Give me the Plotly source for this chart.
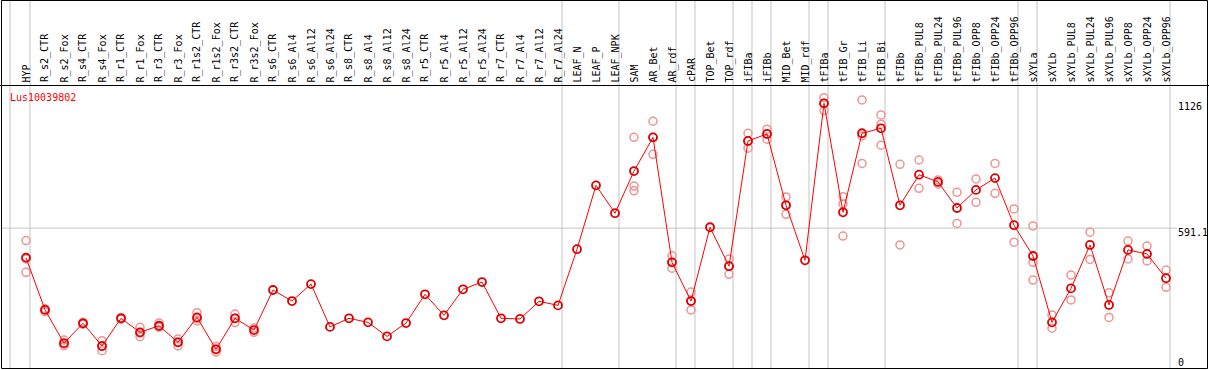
import plotly.graph_objects as go

categories = ["HYP", "R_s2_CTR", "R_s2_Fox", "R_s4_CTR", "R_s4_Fox", "R_r1_CTR", "R_r1_Fox",
              "R_r3_CTR", "R_r3_Fox", "R_r1s2_CTR", "R_r1s2_Fox", "R_r3s2_CTR", "R_r3s2_Fox",
              "R_s6_CTR", "R_s6_Al4", "R_s6_Al12", "R_s6_Al24", "R_s8_CTR", "R_s8_Al4", "R_s8_Al12",
              "R_s8_Al24", "R_r5_CTR", "R_r5_Al4", "R_r5_Al12", "R_r5_Al24", "R_r7_CTR", "R_r7_Al4",
              "R_r7_Al12", "R_r7_Al24", "LEAF_N", "LEAF_P", "LEAF_NPK", "SAM", "AR_Bet", "AR_rdf",
              "cPAR", "TOP_Bet", "TOP_rdf", "iFIBa", "iFIBb", "MID_Bet", "MID_rdf", "tFIBa",
              "tFIB_Gr", "tFIB_Li", "tFIB_Bi", "tFIBb", "tFIBb_PUL8", "tFIBb_PUL24", "tFIBb_PUL96",
              "tFIBb_OPP8", "tFIBb_OPP24", "tFIBb_OPP96", "sXYLa", "sXYLb", "sXYLb_PUL8",
              "sXYLb_PUL24", "sXYLb_PUL96", "sXYLb_OPP8", "sXYLb_OPP24", "sXYLb_OPP96"]

mean_values = [461, 230, 83, 171, 71, 193, 131, 160, 87, 197, 56, 193, 141,
               318, 269, 344, 155, 193, 175, 113, 172, 299, 206, 321, 353, 193, 190, 268, 250,
               498, 780, 657, 843, 992, 440, 269, 595, 423, 976, 1007, 692, 449, 1142,
               661, 1010, 1032, 692, 827, 795, 680, 760, 812, 604, 468, 175, 325,
               517, 252, 495, 477, 370]

replicates = [[536, 455, 396], [235, 222], [97, 80, 72], [175, 167], [94, 69, 50], [197, 189],
              [153, 128, 112], [172, 155, 153], [102, 88, 71], [218, 192, 181], [68, 56, 44],
              [212, 193, 174], [150, 131],
              [], [], [], [], [], [], [], [], [], [], [], [], [], [], [], [],
              [], [], [], [992, 777, 756], [1063, 992, 917], [469, 440, 414], [309, 269, 230],
              [], [455, 425, 387], [1010, 975, 944], [1028, 1007, 984], [729, 692, 652], [],
              [1167, 1142, 1110], [730, 698, 556], [1157, 998, 877], [1091, 1050, 957],
              [873, 517], [892, 767], [804, 786], [749, 612], [808, 705], [877, 745], [676, 529],
              [601, 440, 362], [208, 149], [384, 274], [573, 453], [306, 197], [534, 455],
              [512, 446], [406, 330]]

# separators drawn after these categories (-1 = before the first)
group_breaks = [-1, 0, 28, 31, 34, 35, 37, 38, 39, 41, 42, 45, 52, 53, 60]

gene = "Lus10039802"
axis_labels = [1126, 591.1, 0]
axis_texts = ["1126", "591.1", "0"]

W, H = 1209, 370
FONT = "DejaVu Sans Mono"

rep_x, rep_y = [], []
for c, reps in zip(categories, replicates):
    for r in reps:
        rep_x.append(c)
        rep_y.append(r)

fig = go.Figure()
fig.add_trace(go.Scatter(x=rep_x, y=rep_y, mode="markers", hoverinfo="skip",
                         marker=dict(symbol="circle-open", size=8, color="#ee9494",
                                     line=dict(width=1.5, color="#ee9494"))))
fig.add_trace(go.Scatter(x=categories, y=mean_values, mode="lines+markers",
                         line=dict(color="#ff0000", width=1),
                         marker=dict(symbol="circle-open", size=8, color="#e00000",
                                     line=dict(width=1.8, color="#e00000"))))

shapes = []
for b in group_breaks:
    xb = b + 0.21 if b >= 0 else -0.84
    shapes.append(dict(type="line", xref="x", yref="paper", x0=xb, x1=xb,
                       y0=1 - 368.5 / H, y1=1, line=dict(color="#c4c4c4", width=1), layer="below"))
shapes.append(dict(type="line", xref="paper", yref="y", x0=1.5 / W, x1=1177 / W,
                   y0=591.1, y1=591.1, line=dict(color="#c4c4c4", width=1), layer="below"))
# header separator and frame
shapes.append(dict(type="line", xref="paper", yref="paper", x0=0, x1=1,
                   y0=1 - 85.5 / H, y1=1 - 85.5 / H, line=dict(color="black", width=1)))
shapes.append(dict(type="rect", xref="paper", yref="paper", x0=1.5 / W, x1=1207.5 / W,
                   y0=1 - 368.5 / H, y1=1 - 0.5 / H, line=dict(color="black", width=1)))

annotations = []
for c in categories:
    annotations.append(dict(x=c, xref="x", y=1 - 83.5 / H, yref="paper", text=c,
                            textangle=-90, showarrow=False, xanchor="center", yanchor="bottom",
                            borderpad=0, font=dict(family=FONT, size=10, color="black")))
for v, t in zip(axis_labels, axis_texts):
    annotations.append(dict(x=1177 / W, xref="paper", y=v, yref="y", text=t, showarrow=False,
                            xanchor="left", yanchor="middle", borderpad=0,
                            yshift=-4 if t == "591.1" else 0,
                            font=dict(family=FONT, size=10, color="black")))
annotations.append(dict(x=9 / W, xref="paper", y=1 - 97 / H, yref="paper", text=gene,
                        showarrow=False, xanchor="left", yanchor="middle", borderpad=0,
                        font=dict(family=FONT, size=10, color="#ff0000")))

fig.update_layout(
    width=W, height=H, autosize=False,
    margin=dict(l=0, r=0, t=0, b=0, pad=0),
    paper_bgcolor="white", plot_bgcolor="white",
    showlegend=False,
    xaxis=dict(type="category", categoryorder="array", categoryarray=categories,
               range=[-26 / 19, (W - 26) / 19], showgrid=False, zeroline=False,
               showticklabels=False, showline=False, fixedrange=True),
    yaxis=dict(range=[-35.3, 1598.4], showgrid=False, zeroline=False,
               showticklabels=False, showline=False, fixedrange=True),
    shapes=shapes, annotations=annotations,
)

fig.write_html("out.html", config={"displayModeBar": False},
               post_script="document.body.style.margin='0';document.body.style.overflow='hidden';")
